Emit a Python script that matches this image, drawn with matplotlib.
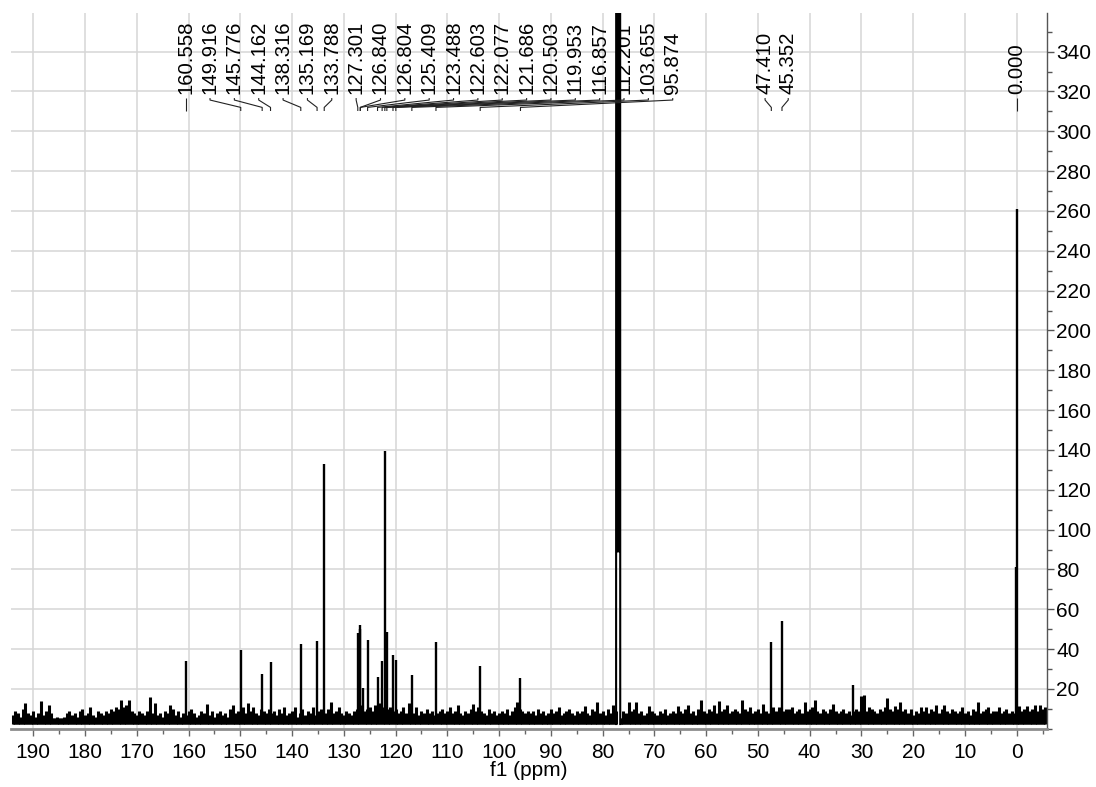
import numpy as np
import matplotlib
matplotlib.use("Agg")
import matplotlib.pyplot as plt
from matplotlib.ticker import FixedLocator, MultipleLocator

plt.rcParams['font.family'] = ['Liberation Sans', 'DejaVu Sans']

# labelled peaks: shift (ppm) and intensity
peak_labels = ['160.558', '149.916', '145.776', '144.162', '138.316', '135.169',
               '133.788', '127.301', '126.840', '126.804', '125.409', '123.488',
               '122.603', '122.077', '121.686', '120.503', '119.953', '116.857',
               '112.201', '103.655', '95.874', '47.410', '45.352', '0.000']
peak_ppm = [160.558, 149.916, 145.776, 144.162, 138.316, 135.169,
            133.788, 127.301, 126.840, 126.804, 125.409, 123.488,
            122.603, 122.077, 121.686, 120.503, 119.953, 116.857,
            112.201, 103.655, 95.874, 47.410, 45.352, 0.000]
peak_height = [33.8, 39.7, 27.6, 33.6, 42.4, 44.3,
               132.8, 48.1, 52.3, 50.0, 44.6, 25.9,
               34.0, 139.3, 48.8, 37.0, 34.3, 27.2,
               43.6, 31.5, 25.4, 43.6, 54.2, 261.0]

# unlabelled lines
extra_ppm = [126.2, 31.6, 0.15]
extra_height = [20.7, 22.0, 81.0]

# CDCl3 triplet (goes off scale)
solvent_ppm = [77.40, 77.32, 77.16, 77.00, 76.84, 76.68, 76.60]
solvent_height = [2.4, 2000, 89, 2000, 89, 2000, 2.4]

# baseline noise, one value every 0.5 ppm starting at 194.0 ppm
noise_start = 194.0
noise_step = 0.5
noise_floor = 2.4
noise_core = 5.5
noise_a = [7, 9, 8, 6, 10, 13, 8, 7, 9, 6, 8, 14, 7, 9, 12, 8, 5, 6, 4, 5,
           6, 8, 9, 7, 8, 6, 9, 10, 7, 8, 11, 7, 6, 9, 8, 7, 9, 8, 10, 9,
           11, 10, 14.6, 11, 12, 14.6, 9, 8, 7, 9, 8, 7, 9, 16, 8, 13, 7, 8, 6, 9,
           8, 12, 10, 7, 9, 6, 8, 7, 9, 10, 8, 6, 7, 9, 8, 12.5, 7, 9, 6, 8,
           9, 7, 8, 6, 10, 12, 8, 9, 7, 11, 8, 13, 9, 11, 8, 7, 10, 9, 8, 10]
noise_b = [8, 9, 7, 10, 8, 11, 7, 8, 9, 11, 6, 8, 10, 7, 9, 8, 11, 7, 9, 10,
           9, 8, 10, 13.6, 8, 9, 11, 8, 7, 9, 8, 7, 9, 10, 8, 12, 9, 10, 11, 9,
           12, 10, 13, 11, 12, 10, 11, 9, 10, 8, 9, 11, 8, 12.8, 9, 8, 11, 7, 9, 8,
           10, 8, 9, 7, 8, 9, 10, 8, 9, 11, 8, 9, 12, 8, 7, 9, 8, 10, 12.5, 9,
           11, 9, 8, 7, 10, 8, 9, 7, 8, 9, 8, 10, 7, 9, 11, 13.3, 10, 9, 8, 9]
noise_c = [8, 9, 7, 10, 8, 9, 7, 8, 10, 8, 9, 11, 7, 8, 9, 10, 8, 7, 9, 8,
           9, 11.5, 8, 7, 10, 9, 13.3, 8, 9, 7, 10, 8, 12, 9, 2.4, 5, 9, 8, 13.6, 9,
           10, 13.5, 8, 9, 7, 8, 11.5, 9, 8, 7, 9, 8, 10, 7, 8, 9, 8, 11.5, 9, 8,
           10, 12, 8, 9, 7, 10, 14.5, 9, 8, 10, 9, 12, 8, 14, 9, 10, 12, 8, 9, 10,
           9, 8, 14.7, 10, 9, 11, 8, 9, 10, 8, 12.5, 9, 8, 10, 11, 9, 11, 8, 9, 10]
noise_d = [10, 11, 8, 9, 10, 8, 13.6, 9, 10, 11, 14.5, 9, 8, 10, 9, 8, 10, 12.5, 9, 8,
           9, 10, 8, 9, 7, 9, 10, 9, 16.5, 17, 9, 11, 10, 9, 8, 10, 9, 11, 15.3, 10,
           9, 11.5, 10, 13.6, 9, 10, 8, 10, 7, 9, 8, 11, 9, 11, 8, 10, 9, 12, 8, 10,
           12, 9, 8, 10, 9, 8, 9, 11, 8, 9, 7, 10, 9, 13.3, 8, 9, 10, 11, 8, 9,
           9, 11, 8, 9, 10, 8, 9, 8, 10, 11.5, 9, 10, 11.5, 9, 10, 12, 9, 12, 10, 11]

# label groups: first one spread from its first peak, second centred
group_spread = list(range(0, 21))
group_centred = [21, 22]
group_single = [23]

fig = plt.figure(figsize=(10.96, 7.87), dpi=100)
ax = fig.add_axes([0.01004, 0.0737, 0.94526, 0.90978])

noise = np.array(noise_a + noise_b + noise_c + noise_d)
noise_ppm = noise_start - noise_step * np.arange(len(noise))
# solid core of the noise band, left open under the solvent lines
core = np.where(noise > noise_floor + 0.1, noise_core, noise_floor)
ax.fill_between(noise_ppm, noise_floor, core, color='black', lw=0, step='mid')
ax.vlines(noise_ppm, noise_floor, noise, color='black', lw=2.2)
ax.vlines(peak_ppm, noise_floor, peak_height, color='black', lw=1.7)
ax.vlines(extra_ppm, noise_floor, extra_height, color='black', lw=1.7)
ax.plot(solvent_ppm, solvent_height, color='black', lw=1.5)

ax.set_xlim(194.3, -5.85)
ax.set_ylim(-0.1, 359.4)

# peak labels with connectors
gap = 4.705  # ppm between neighbouring labels
label_x = {}
for k, i in enumerate(group_spread):
    label_x[i] = peak_ppm[group_spread[0]] - k * gap
mid = np.mean([peak_ppm[i] for i in group_centred])
for k, i in enumerate(group_centred):
    label_x[i] = mid + (len(group_centred) - 1) * gap * 0.95 / 2 - k * gap * 0.95
for i in group_single:
    label_x[i] = peak_ppm[i]

for i, lab in enumerate(peak_labels):
    lx = label_x[i]
    px = peak_ppm[i]
    ax.text(lx, 318.8, lab, rotation=90, ha='center', va='bottom',
            fontsize=14.7, color='black')
    ax.plot([lx, lx, px, px], [316.7, 315.7, 312.0, 310.2],
            color='#222222', lw=0.8, solid_capstyle='butt')

ax.xaxis.set_major_locator(MultipleLocator(10))
ax.xaxis.set_minor_locator(MultipleLocator(5))
ax.yaxis.set_major_locator(FixedLocator(list(range(20, 341, 20))))
ax.yaxis.set_minor_locator(MultipleLocator(10))
ax.yaxis.tick_right()

ax.grid(True, which='major', color='#d6d6d6', lw=1.1)
ax.set_axisbelow(True)

for side in ['left', 'top']:
    ax.spines[side].set_visible(False)
ax.spines['bottom'].set_color('#8c8c8c')
ax.spines['bottom'].set_linewidth(2.0)
ax.spines['right'].set_color('#555555')
ax.spines['right'].set_linewidth(1.0)

ax.tick_params(axis='x', which='major', direction='out', length=5, width=1.0,
               color='#666666', labelsize=15, pad=5)
ax.tick_params(axis='x', which='minor', direction='out', length=3.5, width=1.0,
               color='#666666')
ax.tick_params(axis='y', which='major', direction='out', length=5, width=1.0,
               color='#555555', labelsize=15, pad=1.5)
ax.tick_params(axis='y', which='minor', direction='out', length=3.5, width=1.0,
               color='#555555')

ax.set_xlabel('f1 (ppm)', fontsize=15, labelpad=-0.8)

fig.savefig('out.png', dpi=100)
